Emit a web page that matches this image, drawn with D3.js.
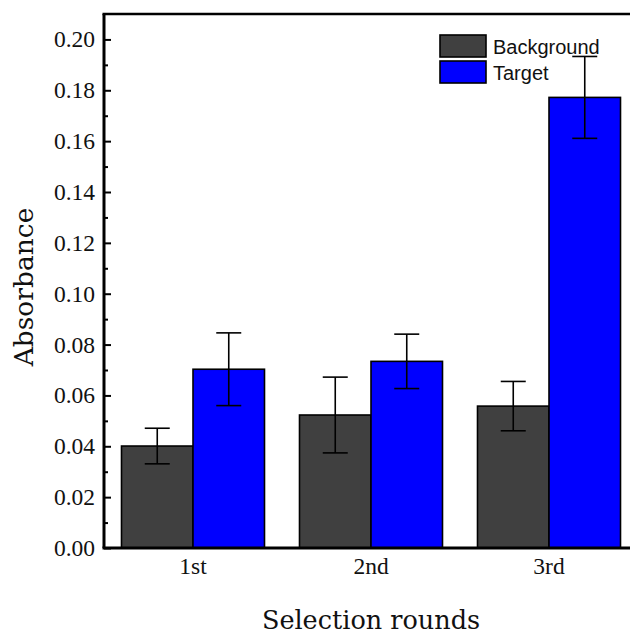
<!DOCTYPE html>
<html>
<head>
<meta charset="utf-8">
<script src="https://cdn.jsdelivr.net/npm/d3@7"></script>
<style>
  html, body { margin: 0; padding: 0; background: #fff; }
  svg { display: block; }
</style>
</head>
<body>
<svg id="chart" width="630" height="634"></svg>
<script>
// ---- data ----
const categories = ["1st", "2nd", "3rd"];
const seriesNames = ["Background", "Target"];
const backgroundValues = [0.0401, 0.0523, 0.0558];
const backgroundErrors = [0.0070, 0.0149, 0.0097];
const targetValues = [0.0703, 0.0734, 0.1772];
const targetErrors = [0.0143, 0.0107, 0.0161];
const yTickValues = [0, 0.02, 0.04, 0.06, 0.08, 0.10, 0.12, 0.14, 0.16, 0.18, 0.20];
const yMinorTickValues = [0.01, 0.03, 0.05, 0.07, 0.09, 0.11, 0.13, 0.15, 0.17, 0.19];
const colors = ["#404040", "#0000ff"];

(function () {
const rows = [];
categories.forEach((c, i) => {
  rows.push({cat: c, series: seriesNames[0], value: backgroundValues[i], err: backgroundErrors[i]});
  rows.push({cat: c, series: seriesNames[1], value: targetValues[i], err: targetErrors[i]});
});

const svg = d3.select("#chart");
const pLeft = 104, pRight = 638, pTop = 14, pBottom = 548;

const x0 = d3.scaleBand().domain(categories).range([pLeft, pRight]).padding(0);
const groupW = 143;
const x1 = d3.scaleBand().domain(seriesNames)
  .range([(x0.bandwidth() - groupW) / 2, (x0.bandwidth() + groupW) / 2]).padding(0);
const y = d3.scaleLinear().domain([0, 0.21]).range([pBottom, pTop]);
const color = d3.scaleOrdinal().domain(seriesNames).range(colors);

const serif = "'Liberation Serif', 'Times New Roman', serif";
const wideSerif = "'DejaVu Serif', serif";
const sans = "'Liberation Sans', Arial, sans-serif";

// bars
const g = svg.append("g");
g.selectAll("rect.bar").data(rows).enter().append("rect")
  .attr("class", "bar")
  .attr("x", d => x0(d.cat) + x1(d.series))
  .attr("y", d => y(d.value))
  .attr("width", x1.bandwidth())
  .attr("height", d => y(0) - y(d.value))
  .attr("fill", d => color(d.series))
  .attr("stroke", "#000")
  .attr("stroke-width", 1.6);

// error bars
const capW = 25;
const cx = d => x0(d.cat) + x1(d.series) + x1.bandwidth() / 2;
const eb = g.selectAll("g.err").data(rows).enter().append("g").attr("class", "err")
  .attr("stroke", "#000").attr("stroke-width", 1.6);
eb.append("line")
  .attr("x1", cx).attr("x2", cx)
  .attr("y1", d => y(d.value + d.err))
  .attr("y2", d => y(d.value - d.err));
eb.append("line")
  .attr("x1", d => cx(d) - capW / 2).attr("x2", d => cx(d) + capW / 2)
  .attr("y1", d => y(d.value + d.err)).attr("y2", d => y(d.value + d.err));
eb.append("line")
  .attr("x1", d => cx(d) - capW / 2).attr("x2", d => cx(d) + capW / 2)
  .attr("y1", d => y(d.value - d.err)).attr("y2", d => y(d.value - d.err));

// y axis minor ticks
const yMinor = svg.append("g").attr("transform", `translate(${pLeft},0)`)
  .call(d3.axisLeft(y).tickValues(yMinorTickValues).tickSize(-4).tickFormat(""));
yMinor.select(".domain").remove();
yMinor.selectAll("line").attr("stroke", "#000").attr("stroke-width", 2);

// y axis major
const yAxis = svg.append("g").attr("transform", `translate(${pLeft},0)`)
  .call(d3.axisLeft(y).tickValues(yTickValues).tickSize(-7).tickSizeOuter(0)
    .tickPadding(9).tickFormat(d3.format(".2f")));
yAxis.select(".domain").attr("stroke", "#000").attr("stroke-width", 3)
  .attr("d", `M0,${pBottom}V${pTop}`);
yAxis.selectAll(".tick line").attr("stroke", "#000").attr("stroke-width", 2);
yAxis.selectAll(".tick text").attr("font-family", serif).attr("font-size", 23.5).attr("fill", "#111");

// x axis
const xAxis = svg.append("g").attr("transform", `translate(0,${pBottom})`)
  .call(d3.axisBottom(x0).tickSize(0).tickPadding(9));
xAxis.select(".domain").attr("stroke", "#000").attr("stroke-width", 3)
  .attr("d", `M${pLeft - 1.5},0H${pRight}`);
xAxis.selectAll(".tick text").attr("font-family", serif).attr("font-size", 23.5).attr("fill", "#111");

// top border
svg.append("line").attr("x1", pLeft - 1.5).attr("x2", pRight).attr("y1", pTop).attr("y2", pTop)
  .attr("stroke", "#000").attr("stroke-width", 2.5);

// axis titles
svg.append("text").attr("x", 371).attr("y", 629).attr("text-anchor", "middle")
  .attr("font-family", wideSerif).attr("font-size", 25.5).attr("fill", "#111")
  .text("Selection rounds");
svg.append("text").attr("transform", "translate(33,287) rotate(-90)").attr("text-anchor", "middle")
  .attr("font-family", wideSerif).attr("font-size", 26.5).attr("fill", "#111")
  .text("Absorbance");

// legend
const legend = svg.append("g").attr("transform", "translate(440,35)");
const li = legend.selectAll("g").data(seriesNames).enter().append("g")
  .attr("transform", (d, i) => `translate(0,${i * 26})`);
li.append("rect").attr("width", 46).attr("height", 22)
  .attr("fill", d => color(d)).attr("stroke", "#000").attr("stroke-width", 1.6);
li.append("text").attr("x", 53).attr("y", 19)
  .attr("font-family", sans).attr("font-size", 20).attr("fill", "#111")
  .text(d => d);
})();
</script>
</body>
</html>
